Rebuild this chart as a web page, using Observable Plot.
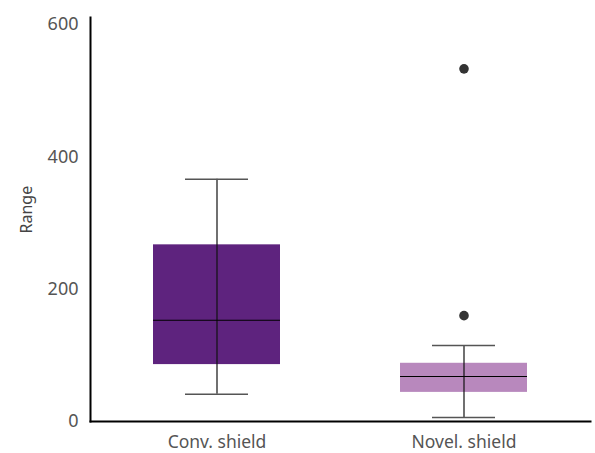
<!DOCTYPE html>
<html><head><meta charset="utf-8">
<script src="https://cdn.jsdelivr.net/npm/d3@7"></script>
<script src="https://cdn.jsdelivr.net/npm/@observablehq/plot@0.6"></script>
<style>body{margin:0;background:#fff;font-family:"Noto Sans",sans-serif}</style>
</head><body><div id="chart"></div>
<script>
const categories = ["Conv. shield", "Novel. shield"];
const colors = ["#5e237e", "#b888bd"];
const whiskerLow = [41, 6];
const q1 = [86, 44];
const median = [153, 68];
const q3 = [267, 88];
const whiskerHigh = [366, 115];
const outlierCategory = ["Novel. shield", "Novel. shield"];
const outlierValue = [533, 160];
const yTicks = [0, 200, 400, 600];
const yLabel = "Range";

const boxes = categories.map((c, i) => ({c, lo: whiskerLow[i], q1: q1[i], med: median[i], q3: q3[i], hi: whiskerHigh[i], color: colors[i]}));
const outliers = outlierCategory.map((c, i) => ({c, v: outlierValue[i]}));

const chart = Plot.plot({
  width: 595, height: 453,
  marginLeft: 90, marginRight: 5, marginTop: 17, marginBottom: 32,
  style: {fontFamily: "Noto Sans, sans-serif", fontSize: "15px", color: "#555", background: "#fff"},
  x: {type: "band", domain: categories, paddingInner: 0.484, paddingOuter: 0.254, label: null},
  y: {domain: [0, 610.6], label: null},
  marks: [
    Plot.barY(boxes, {x: "c", y1: "q1", y2: "q3", fill: "color"}),
    Plot.ruleX(boxes, {x: "c", y1: "lo", y2: "hi", stroke: "#111", strokeWidth: 1.2}),
    Plot.tickY(boxes, {x: "c", y: "lo", stroke: "#555", strokeWidth: 1.5, insetLeft: 32, insetRight: 32}),
    Plot.tickY(boxes, {x: "c", y: "hi", stroke: "#555", strokeWidth: 1.5, insetLeft: 32, insetRight: 32}),
    Plot.tickY(boxes, {x: "c", y: "med", stroke: "#000", strokeWidth: 1.2}),
    Plot.dot(outliers, {x: "c", y: "v", r: 4.8, fill: "#333", stroke: "none"}),
    Plot.axisY({ticks: yTicks, tickSize: 0, tickPadding: 12, fill: "#555", fontSize: 18, label: null}),
    Plot.text([yLabel], {frameAnchor: "left", rotate: -90, dx: -64, dy: 14, fontSize: 16, fill: "#444"}),
    Plot.axisX({tickSize: 0, tickPadding: 14, fill: "#555", fontSize: 17.5, label: null}),
    Plot.frame({anchor: "left", stroke: "#000", strokeWidth: 2}),
    Plot.frame({anchor: "bottom", stroke: "#000", strokeWidth: 2})
  ]
});
document.getElementById("chart").appendChild(chart);
</script></body></html>
